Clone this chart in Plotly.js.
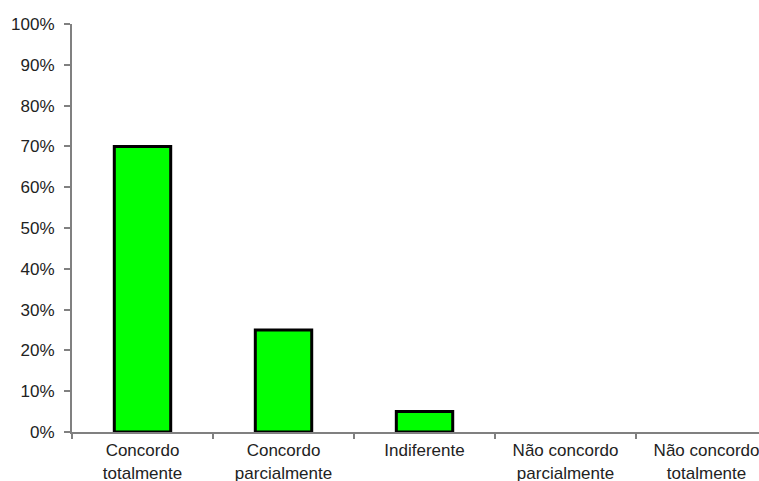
<!DOCTYPE html>
<html>
<head>
<meta charset="utf-8">
<script src="https://cdn.plot.ly/plotly-3.0.1.min.js"></script>
<style>html,body{margin:0;padding:0;background:#fff;}#chart{width:759px;height:481px;}</style>
</head>
<body>
<div id="chart"></div>
<script>
const categories = ["Concordo<br>totalmente", "Concordo<br>parcialmente", "Indiferente", "Não concordo<br>parcialmente", "Não concordo<br>totalmente"];
const values = [0.70, 0.25, 0.05, 0, 0];
const yTicks = [0, 0.1, 0.2, 0.3, 0.4, 0.5, 0.6, 0.7, 0.8, 0.9, 1.0];

const trace = {
  type: 'bar',
  x: categories,
  y: values,
  width: 0.4,
  marker: {
    color: '#00ff00',
    line: { color: '#000000', width: values.map(v => v > 0 ? 3 : 0) }
  },
  hoverinfo: 'none'
};

const layout = {
  width: 759,
  height: 481,
  margin: { l: 72, r: 0, t: 24, b: 49, pad: 0 },
  paper_bgcolor: '#ffffff',
  plot_bgcolor: '#ffffff',
  showlegend: false,
  font: { family: 'Liberation Sans, Arial, sans-serif', size: 17, color: '#222222' },
  xaxis: {
    type: 'category',
    range: [-0.5, 4.372],
    showline: true,
    linecolor: '#808080',
    linewidth: 2,
    ticks: 'outside',
    tickson: 'boundaries',
    ticklen: 5,
    tickwidth: 2,
    tickcolor: '#808080',
    ticklabelstandoff: 2,
    showgrid: false,
    zeroline: false,
    tickfont: { size: 17, color: '#222222' },
    fixedrange: true
  },
  yaxis: {
    range: [0, 1],
    tickvals: yTicks,
    tickformat: '.0%',
    showline: true,
    linecolor: '#808080',
    linewidth: 2,
    ticks: 'outside',
    ticklen: 6,
    tickwidth: 2,
    tickcolor: '#808080',
    ticklabelstandoff: 6,
    showgrid: false,
    zeroline: false,
    tickfont: { size: 17, color: '#222222' },
    fixedrange: true
  }
};

Plotly.newPlot('chart', [trace], layout, { displayModeBar: false, staticPlot: true });
</script>
</body>
</html>
